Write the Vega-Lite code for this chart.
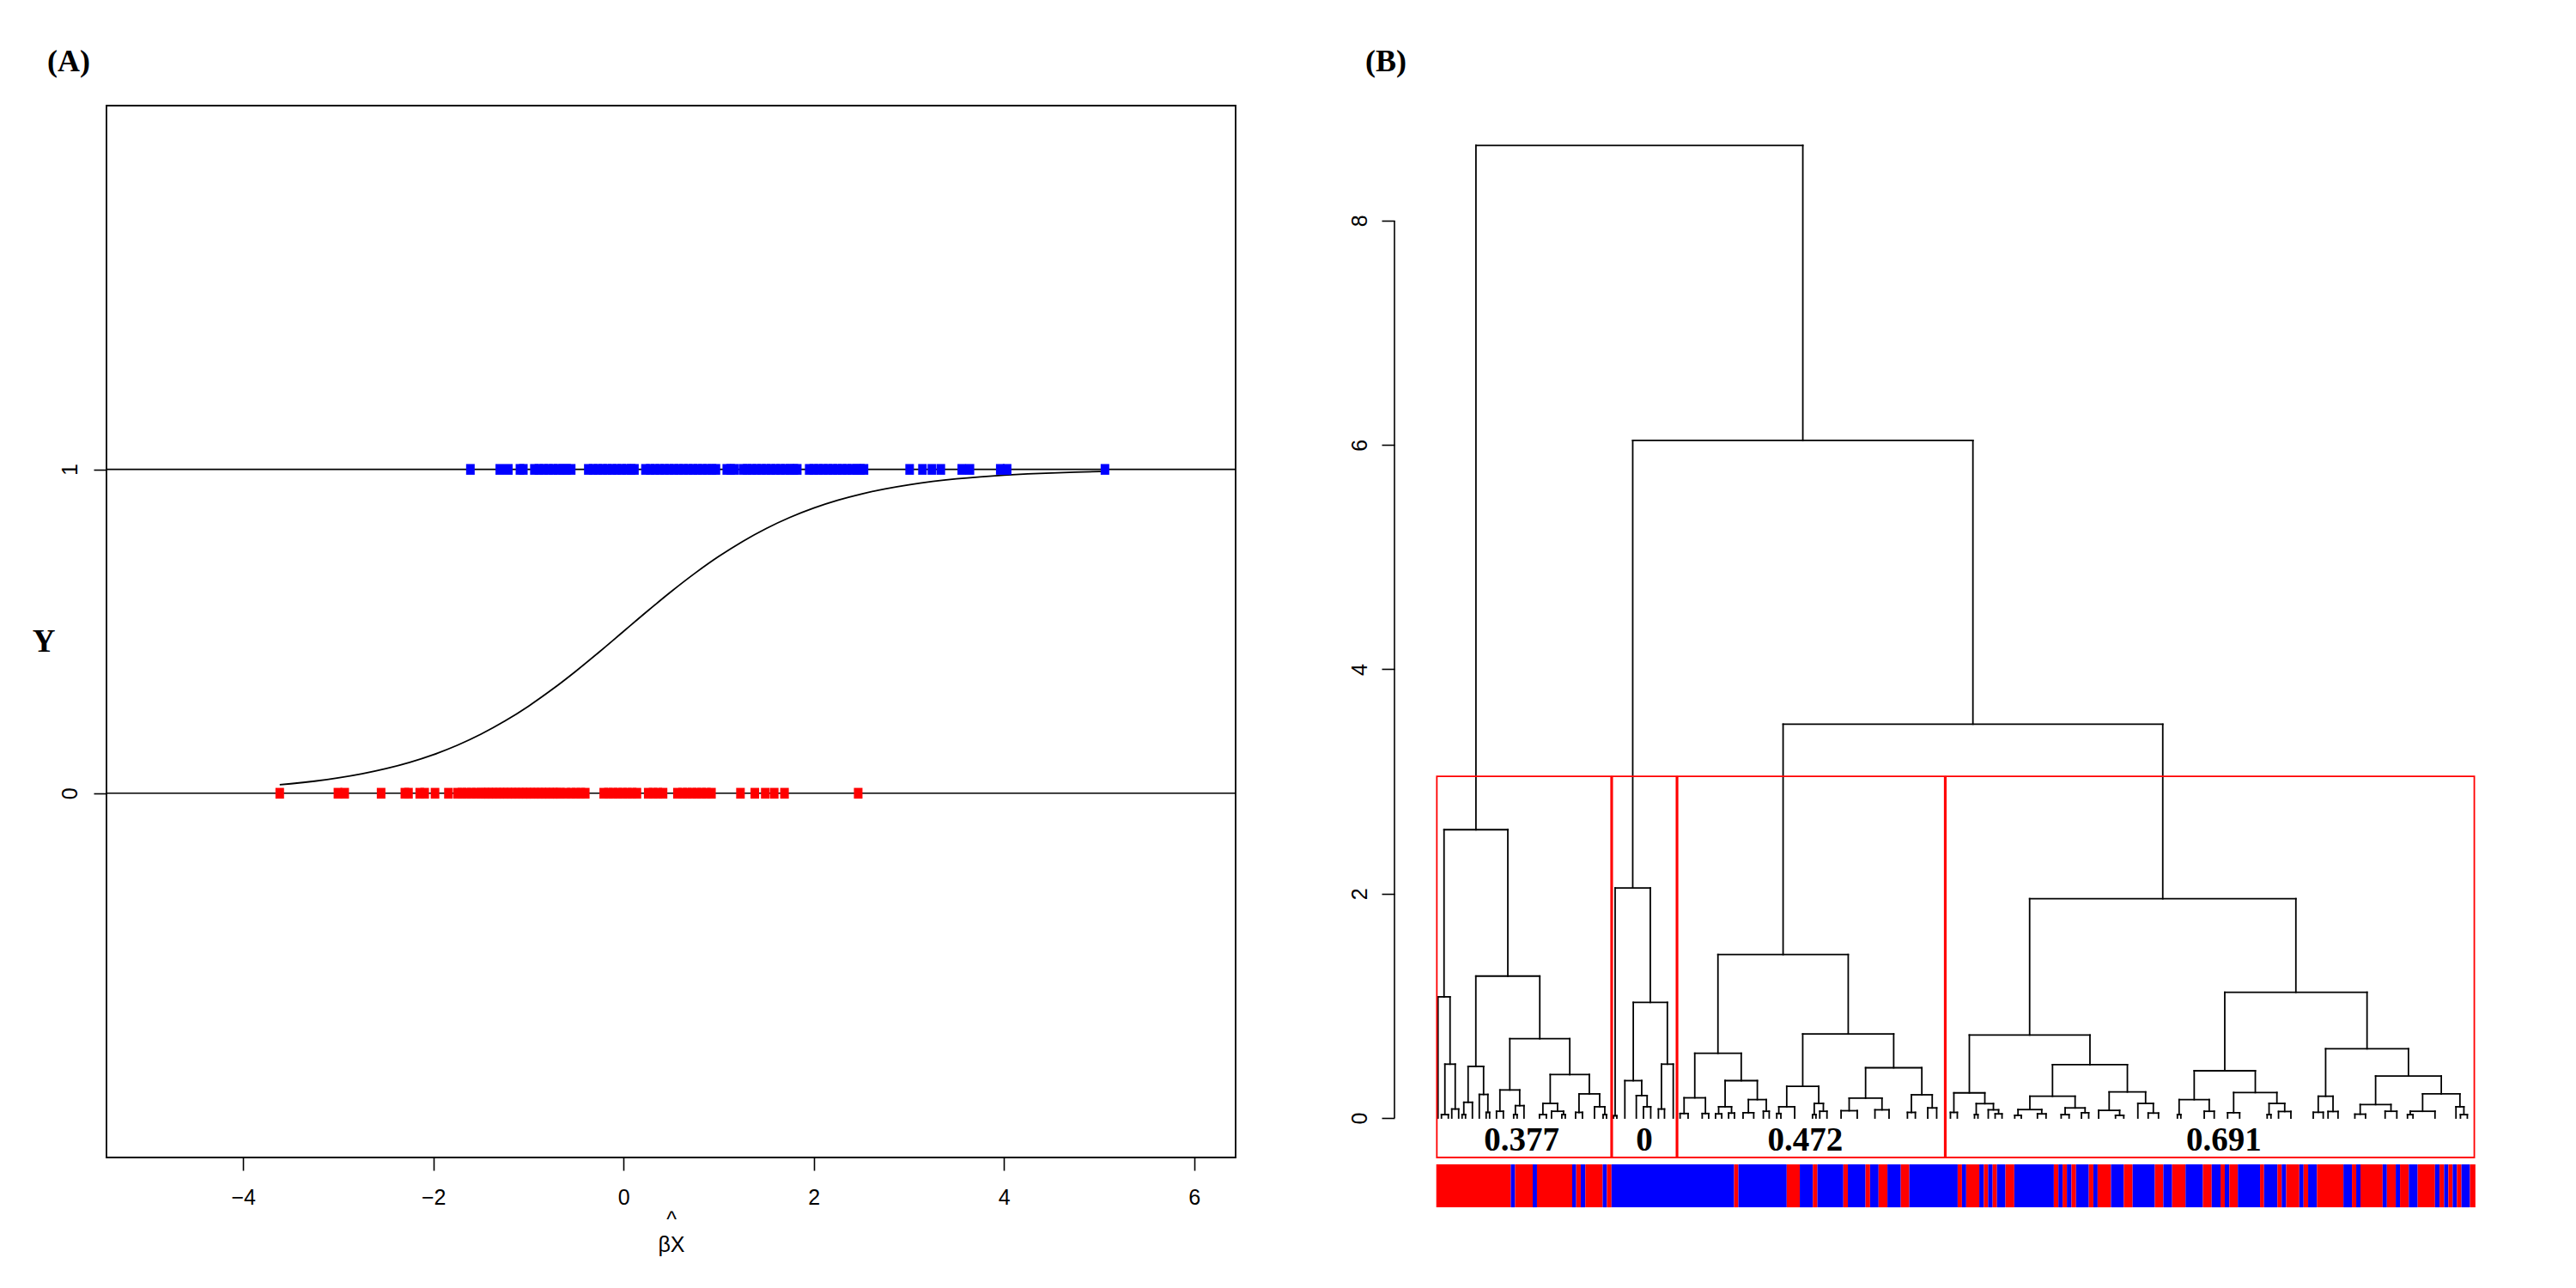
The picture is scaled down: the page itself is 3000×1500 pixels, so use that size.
{
  "$schema": "https://vega.github.io/schema/vega-lite/v6.json",
  "background": "white",
  "padding": {"left": 36, "top": 53, "right": 20, "bottom": 20},
  "bounds": "flush",
  "spacing": 185,
  "config": {
    "view": {"stroke": null},
    "axis": {
      "grid": false,
      "labelFont": "Liberation Sans",
      "labelFontSize": 25,
      "labelColor": "black",
      "tickColor": "black",
      "tickSize": 15,
      "tickWidth": 1.6,
      "domain": false,
      "format": "d"
    },
    "title": {
      "font": "Liberation Serif",
      "fontSize": 36,
      "fontWeight": "bold",
      "color": "black",
      "anchor": "start",
      "frame": "group",
      "baseline": "alphabetic",
      "offset": 32
    }
  },
  "datasets": {
    "points": [
      {"bx": -3.616, "y": 0}, {"bx": -3.004, "y": 0}, {"bx": -2.933, "y": 0}, {"bx": -2.55, "y": 0},
      {"bx": -2.3, "y": 0}, {"bx": -2.262, "y": 0}, {"bx": -2.144, "y": 0}, {"bx": -2.092, "y": 0},
      {"bx": -1.983, "y": 0}, {"bx": -1.842, "y": 0}, {"bx": -1.746, "y": 0}, {"bx": -1.7, "y": 0},
      {"bx": -1.65, "y": 0}, {"bx": -1.6, "y": 0}, {"bx": -1.55, "y": 0}, {"bx": -1.5, "y": 0},
      {"bx": -1.46, "y": 0}, {"bx": -1.42, "y": 0}, {"bx": -1.38, "y": 0}, {"bx": -1.34, "y": 0},
      {"bx": -1.3, "y": 0}, {"bx": -1.26, "y": 0}, {"bx": -1.22, "y": 0}, {"bx": -1.18, "y": 0},
      {"bx": -1.14, "y": 0}, {"bx": -1.1, "y": 0}, {"bx": -1.06, "y": 0}, {"bx": -1.02, "y": 0},
      {"bx": -0.98, "y": 0}, {"bx": -0.94, "y": 0}, {"bx": -0.9, "y": 0}, {"bx": -0.86, "y": 0},
      {"bx": -0.82, "y": 0}, {"bx": -0.78, "y": 0}, {"bx": -0.74, "y": 0}, {"bx": -0.7, "y": 0},
      {"bx": -0.665, "y": 0}, {"bx": -0.605, "y": 0}, {"bx": -0.55, "y": 0}, {"bx": -0.5, "y": 0},
      {"bx": -0.45, "y": 0}, {"bx": -0.403, "y": 0}, {"bx": -0.209, "y": 0}, {"bx": -0.16, "y": 0},
      {"bx": -0.11, "y": 0}, {"bx": -0.06, "y": 0}, {"bx": -0.01, "y": 0}, {"bx": 0.04, "y": 0},
      {"bx": 0.09, "y": 0}, {"bx": 0.14, "y": 0}, {"bx": 0.259, "y": 0}, {"bx": 0.31, "y": 0},
      {"bx": 0.36, "y": 0}, {"bx": 0.415, "y": 0}, {"bx": 0.566, "y": 0}, {"bx": 0.62, "y": 0},
      {"bx": 0.67, "y": 0}, {"bx": 0.72, "y": 0}, {"bx": 0.77, "y": 0}, {"bx": 0.82, "y": 0},
      {"bx": 0.87, "y": 0}, {"bx": 0.924, "y": 0}, {"bx": 1.229, "y": 0}, {"bx": 1.38, "y": 0},
      {"bx": 1.49, "y": 0}, {"bx": 1.584, "y": 0}, {"bx": 1.692, "y": 0}, {"bx": 2.467, "y": 0},
      {"bx": -1.611, "y": 1}, {"bx": -1.302, "y": 1}, {"bx": -1.212, "y": 1}, {"bx": -1.09, "y": 1},
      {"bx": -1.054, "y": 1}, {"bx": -0.938, "y": 1}, {"bx": -0.89, "y": 1}, {"bx": -0.84, "y": 1},
      {"bx": -0.79, "y": 1}, {"bx": -0.74, "y": 1}, {"bx": -0.69, "y": 1}, {"bx": -0.64, "y": 1},
      {"bx": -0.6, "y": 1}, {"bx": -0.551, "y": 1}, {"bx": -0.371, "y": 1}, {"bx": -0.32, "y": 1},
      {"bx": -0.27, "y": 1}, {"bx": -0.22, "y": 1}, {"bx": -0.17, "y": 1}, {"bx": -0.12, "y": 1},
      {"bx": -0.07, "y": 1}, {"bx": -0.02, "y": 1}, {"bx": 0.03, "y": 1}, {"bx": 0.08, "y": 1},
      {"bx": 0.114, "y": 1}, {"bx": 0.23, "y": 1}, {"bx": 0.28, "y": 1}, {"bx": 0.33, "y": 1},
      {"bx": 0.38, "y": 1}, {"bx": 0.43, "y": 1}, {"bx": 0.48, "y": 1}, {"bx": 0.53, "y": 1},
      {"bx": 0.58, "y": 1}, {"bx": 0.63, "y": 1}, {"bx": 0.68, "y": 1}, {"bx": 0.73, "y": 1},
      {"bx": 0.78, "y": 1}, {"bx": 0.83, "y": 1}, {"bx": 0.88, "y": 1}, {"bx": 0.93, "y": 1},
      {"bx": 0.971, "y": 1}, {"bx": 1.085, "y": 1}, {"bx": 1.125, "y": 1}, {"bx": 1.165, "y": 1},
      {"bx": 1.256, "y": 1}, {"bx": 1.3, "y": 1}, {"bx": 1.35, "y": 1}, {"bx": 1.4, "y": 1},
      {"bx": 1.45, "y": 1}, {"bx": 1.5, "y": 1}, {"bx": 1.55, "y": 1}, {"bx": 1.6, "y": 1},
      {"bx": 1.65, "y": 1}, {"bx": 1.7, "y": 1}, {"bx": 1.75, "y": 1}, {"bx": 1.79, "y": 1},
      {"bx": 1.826, "y": 1}, {"bx": 1.952, "y": 1}, {"bx": 2.0, "y": 1}, {"bx": 2.05, "y": 1},
      {"bx": 2.1, "y": 1}, {"bx": 2.15, "y": 1}, {"bx": 2.2, "y": 1}, {"bx": 2.25, "y": 1},
      {"bx": 2.3, "y": 1}, {"bx": 2.35, "y": 1}, {"bx": 2.4, "y": 1}, {"bx": 2.45, "y": 1},
      {"bx": 2.49, "y": 1}, {"bx": 2.528, "y": 1}, {"bx": 3.008, "y": 1}, {"bx": 3.143, "y": 1},
      {"bx": 3.242, "y": 1}, {"bx": 3.336, "y": 1}, {"bx": 3.556, "y": 1}, {"bx": 3.642, "y": 1},
      {"bx": 3.961, "y": 1}, {"bx": 4.033, "y": 1}, {"bx": 5.062, "y": 1}
    ],
    "fit": [
      {"bx": -3.616, "p": 0.0262}, {"bx": -3.5, "p": 0.0293}, {"bx": -3.25, "p": 0.0373},
      {"bx": -3.0, "p": 0.0474}, {"bx": -2.75, "p": 0.0601}, {"bx": -2.5, "p": 0.0759},
      {"bx": -2.25, "p": 0.0953}, {"bx": -2.0, "p": 0.1192}, {"bx": -1.75, "p": 0.148},
      {"bx": -1.5, "p": 0.1824}, {"bx": -1.25, "p": 0.2227}, {"bx": -1.0, "p": 0.2689},
      {"bx": -0.75, "p": 0.3208}, {"bx": -0.5, "p": 0.3775}, {"bx": -0.25, "p": 0.4378},
      {"bx": 0.0, "p": 0.5}, {"bx": 0.25, "p": 0.5622}, {"bx": 0.5, "p": 0.6225},
      {"bx": 0.75, "p": 0.6792}, {"bx": 1.0, "p": 0.7311}, {"bx": 1.25, "p": 0.7773},
      {"bx": 1.5, "p": 0.8176}, {"bx": 1.75, "p": 0.852}, {"bx": 2.0, "p": 0.8808},
      {"bx": 2.25, "p": 0.9047}, {"bx": 2.5, "p": 0.9241}, {"bx": 2.75, "p": 0.9399},
      {"bx": 3.0, "p": 0.9526}, {"bx": 3.25, "p": 0.9627}, {"bx": 3.5, "p": 0.9707},
      {"bx": 3.75, "p": 0.977}, {"bx": 4.0, "p": 0.982}, {"bx": 4.25, "p": 0.9859},
      {"bx": 4.5, "p": 0.989}, {"bx": 4.75, "p": 0.9914}, {"bx": 5.0, "p": 0.9933},
      {"bx": 5.062, "p": 0.9937}
    ],
    "merges": [
      {"l": 2, "r": 4, "h": 0.03, "hl": 0, "hr": 0},
      {"l": 5, "r": 7, "h": 0.08, "hl": 0, "hr": 0},
      {"l": 3, "r": 6, "h": 0.48, "hl": 0.03, "hr": 0.08},
      {"l": 1, "r": 4.5, "h": 1.08, "hl": 0, "hr": 0.48},
      {"l": 8, "r": 9, "h": 0.03, "hl": 0, "hr": 0},
      {"l": 8.5, "r": 11, "h": 0.14, "hl": 0.03, "hr": 0},
      {"l": 15, "r": 16, "h": 0.05, "hl": 0, "hr": 0},
      {"l": 13, "r": 15.5, "h": 0.21, "hl": 0, "hr": 0.05},
      {"l": 9.75, "r": 14.25, "h": 0.46, "hl": 0.14, "hr": 0.21},
      {"l": 18, "r": 20, "h": 0.06, "hl": 0, "hr": 0},
      {"l": 23, "r": 24, "h": 0.03, "hl": 0, "hr": 0},
      {"l": 23.5, "r": 26, "h": 0.11, "hl": 0.03, "hr": 0},
      {"l": 19, "r": 24.75, "h": 0.25, "hl": 0.06, "hr": 0.11},
      {"l": 30.5, "r": 32.5, "h": 0.03, "hl": 0, "hr": 0},
      {"l": 37, "r": 38, "h": 0.03, "hl": 0, "hr": 0},
      {"l": 34, "r": 37.5, "h": 0.06, "hl": 0, "hr": 0.03},
      {"l": 31.5, "r": 35.75, "h": 0.13, "hl": 0.03, "hr": 0.06},
      {"l": 41, "r": 43, "h": 0.05, "hl": 0, "hr": 0},
      {"l": 49, "r": 50, "h": 0.03, "hl": 0, "hr": 0},
      {"l": 46.5, "r": 49.5, "h": 0.1, "hl": 0, "hr": 0.03},
      {"l": 42, "r": 48, "h": 0.215, "hl": 0.05, "hr": 0.1},
      {"l": 33.625, "r": 45, "h": 0.387, "hl": 0.13, "hr": 0.215},
      {"l": 21.875, "r": 39.31, "h": 0.707, "hl": 0.25, "hr": 0.387},
      {"l": 12, "r": 30.59, "h": 1.265, "hl": 0.46, "hr": 0.707},
      {"l": 2.75, "r": 21.3, "h": 2.57, "hl": 1.08, "hr": 1.265},
      {"l": 52, "r": 53, "h": 0.02, "hl": 0, "hr": 0},
      {"l": 60.74, "r": 62.85, "h": 0.1, "hl": 0, "hr": 0},
      {"l": 58.66, "r": 61.8, "h": 0.2, "hl": 0, "hr": 0.1},
      {"l": 55.33, "r": 60.23, "h": 0.333, "hl": 0, "hr": 0.2},
      {"l": 65.09, "r": 66.85, "h": 0.08, "hl": 0, "hr": 0},
      {"l": 65.97, "r": 69.4, "h": 0.48, "hl": 0.08, "hr": 0},
      {"l": 57.78, "r": 67.69, "h": 1.03, "hl": 0.333, "hr": 0.48},
      {"l": 52.5, "r": 62.73, "h": 2.05, "hl": 0.02, "hr": 1.03},
      {"l": 71.39, "r": 73.72, "h": 0.04, "hl": 0, "hr": 0},
      {"l": 77.82, "r": 79.7, "h": 0.04, "hl": 0, "hr": 0},
      {"l": 72.55, "r": 78.76, "h": 0.18, "hl": 0.04, "hr": 0.04},
      {"l": 81.7, "r": 83.5, "h": 0.037, "hl": 0, "hr": 0},
      {"l": 85.5, "r": 87.2, "h": 0.044, "hl": 0, "hr": 0},
      {"l": 82.6, "r": 86.35, "h": 0.1, "hl": 0.037, "hr": 0.044},
      {"l": 89.7, "r": 92.8, "h": 0.047, "hl": 0, "hr": 0},
      {"l": 95.6, "r": 97.3, "h": 0.06, "hl": 0, "hr": 0},
      {"l": 91.25, "r": 96.45, "h": 0.164, "hl": 0.047, "hr": 0.06},
      {"l": 84.48, "r": 93.85, "h": 0.333, "hl": 0.1, "hr": 0.164},
      {"l": 75.66, "r": 89.17, "h": 0.577, "hl": 0.18, "hr": 0.333},
      {"l": 99.5, "r": 100.7, "h": 0.04, "hl": 0, "hr": 0},
      {"l": 100.1, "r": 104.71, "h": 0.1, "hl": 0.04, "hr": 0},
      {"l": 109.9, "r": 110.9, "h": 0.03, "hl": 0, "hr": 0},
      {"l": 112.0, "r": 114.1, "h": 0.06, "hl": 0, "hr": 0},
      {"l": 110.4, "r": 113.05, "h": 0.13, "hl": 0.03, "hr": 0.06},
      {"l": 102.4, "r": 111.7, "h": 0.283, "hl": 0.1, "hr": 0.13},
      {"l": 118.2, "r": 122.9, "h": 0.065, "hl": 0, "hr": 0},
      {"l": 128.05, "r": 132.15, "h": 0.073, "hl": 0, "hr": 0},
      {"l": 120.55, "r": 130.1, "h": 0.177, "hl": 0.065, "hr": 0.073},
      {"l": 137.5, "r": 139.8, "h": 0.05, "hl": 0, "hr": 0},
      {"l": 143.4, "r": 146, "h": 0.09, "hl": 0, "hr": 0},
      {"l": 138.65, "r": 144.7, "h": 0.207, "hl": 0.05, "hr": 0.09},
      {"l": 125.33, "r": 141.68, "h": 0.448, "hl": 0.177, "hr": 0.207},
      {"l": 107.05, "r": 133.5, "h": 0.749, "hl": 0.283, "hr": 0.448},
      {"l": 82.4, "r": 120.28, "h": 1.457, "hl": 0.577, "hr": 0.749},
      {"l": 150, "r": 152, "h": 0.05, "hl": 0, "hr": 0},
      {"l": 157, "r": 158, "h": 0.03, "hl": 0, "hr": 0},
      {"l": 163, "r": 165, "h": 0.037, "hl": 0, "hr": 0},
      {"l": 161, "r": 164, "h": 0.073, "hl": 0, "hr": 0.037},
      {"l": 157.5, "r": 162.5, "h": 0.128, "hl": 0.03, "hr": 0.073},
      {"l": 151, "r": 160, "h": 0.224, "hl": 0.05, "hr": 0.128},
      {"l": 168.7, "r": 170.6, "h": 0.024, "hl": 0, "hr": 0},
      {"l": 175.3, "r": 177.8, "h": 0.037, "hl": 0, "hr": 0},
      {"l": 169.65, "r": 176.55, "h": 0.075, "hl": 0.024, "hr": 0.037},
      {"l": 182.2, "r": 184.5, "h": 0.03, "hl": 0, "hr": 0},
      {"l": 188.1, "r": 190.2, "h": 0.047, "hl": 0, "hr": 0},
      {"l": 183.35, "r": 189.15, "h": 0.09, "hl": 0.03, "hr": 0.047},
      {"l": 173.1, "r": 186.25, "h": 0.194, "hl": 0.075, "hr": 0.09},
      {"l": 198, "r": 200.4, "h": 0.024, "hl": 0, "hr": 0},
      {"l": 193.1, "r": 199.2, "h": 0.068, "hl": 0, "hr": 0.024},
      {"l": 207.5, "r": 210.5, "h": 0.044, "hl": 0, "hr": 0},
      {"l": 204.5, "r": 209.0, "h": 0.13, "hl": 0, "hr": 0.044},
      {"l": 196.15, "r": 206.75, "h": 0.232, "hl": 0.068, "hr": 0.13},
      {"l": 179.68, "r": 201.45, "h": 0.475, "hl": 0.194, "hr": 0.232},
      {"l": 155.5, "r": 190.57, "h": 0.74, "hl": 0.224, "hr": 0.475},
      {"l": 216, "r": 217, "h": 0.03, "hl": 0, "hr": 0},
      {"l": 223.8, "r": 226.7, "h": 0.06, "hl": 0, "hr": 0},
      {"l": 216.5, "r": 225.25, "h": 0.164, "hl": 0.03, "hr": 0.06},
      {"l": 230.6, "r": 234.1, "h": 0.047, "hl": 0, "hr": 0},
      {"l": 242.1, "r": 243.2, "h": 0.03, "hl": 0, "hr": 0},
      {"l": 245.4, "r": 249.0, "h": 0.058, "hl": 0, "hr": 0},
      {"l": 242.65, "r": 247.2, "h": 0.13, "hl": 0.03, "hr": 0.058},
      {"l": 232.35, "r": 244.93, "h": 0.227, "hl": 0.047, "hr": 0.13},
      {"l": 220.88, "r": 238.65, "h": 0.421, "hl": 0.164, "hr": 0.227},
      {"l": 255.5, "r": 258.4, "h": 0.051, "hl": 0, "hr": 0},
      {"l": 259.8, "r": 262.7, "h": 0.058, "hl": 0, "hr": 0},
      {"l": 256.95, "r": 261.25, "h": 0.194, "hl": 0.051, "hr": 0.058},
      {"l": 267.6, "r": 270.7, "h": 0.034, "hl": 0, "hr": 0},
      {"l": 276.4, "r": 279.8, "h": 0.06, "hl": 0, "hr": 0},
      {"l": 269.15, "r": 278.1, "h": 0.12, "hl": 0.034, "hr": 0.06},
      {"l": 282.9, "r": 284.5, "h": 0.03, "hl": 0, "hr": 0},
      {"l": 283.7, "r": 290.9, "h": 0.06, "hl": 0.03, "hr": 0},
      {"l": 298.3, "r": 300.3, "h": 0.03, "hl": 0, "hr": 0},
      {"l": 297, "r": 299.3, "h": 0.1, "hl": 0, "hr": 0.03},
      {"l": 287.3, "r": 298.15, "h": 0.215, "hl": 0.06, "hr": 0.1},
      {"l": 273.63, "r": 292.73, "h": 0.374, "hl": 0.12, "hr": 0.215},
      {"l": 259.1, "r": 283.18, "h": 0.617, "hl": 0.194, "hr": 0.374},
      {"l": 229.77, "r": 271.14, "h": 1.121, "hl": 0.421, "hr": 0.617},
      {"l": 173.03, "r": 250.45, "h": 1.955, "hl": 0.74, "hr": 1.121},
      {"l": 101.34, "r": 211.74, "h": 3.51, "hl": 1.457, "hr": 1.955},
      {"l": 57.62, "r": 156.54, "h": 6.04, "hl": 2.05, "hr": 3.51},
      {"l": 12.03, "r": 107.08, "h": 8.67, "hl": 2.57, "hr": 6.04}
    ],
    "clusters": [
      {"from": 0.66, "to": 51.33, "cut": 3.045, "mid": 25.3, "share": "0.377"},
      {"from": 51.66, "to": 70.33, "cut": 3.045, "mid": 61.0, "share": "0"},
      {"from": 70.66, "to": 148.33, "cut": 3.045, "mid": 107.8, "share": "0.472"},
      {"from": 148.66, "to": 302.33, "cut": 3.045, "mid": 229.5, "share": "0.691"}
    ],
    "leafbar": [
      {"s": 0.5, "e": 22.17, "y": 0}, {"s": 22.17, "e": 23.41, "y": 1}, {"s": 23.41, "e": 28.54, "y": 0},
      {"s": 28.54, "e": 29.78, "y": 1}, {"s": 29.78, "e": 40.03, "y": 0}, {"s": 40.03, "e": 41.19, "y": 1},
      {"s": 41.19, "e": 42.51, "y": 0}, {"s": 42.51, "e": 43.84, "y": 1}, {"s": 43.84, "e": 48.88, "y": 0},
      {"s": 48.88, "e": 50.12, "y": 1}, {"s": 50.12, "e": 51.45, "y": 0}, {"s": 51.45, "e": 87.1, "y": 1},
      {"s": 87.1, "e": 88.34, "y": 0}, {"s": 88.34, "e": 102.4, "y": 1}, {"s": 102.4, "e": 106.2, "y": 0},
      {"s": 106.2, "e": 110.0, "y": 1}, {"s": 110.0, "e": 111.33, "y": 0}, {"s": 111.33, "e": 118.86, "y": 1},
      {"s": 118.86, "e": 120.18, "y": 0}, {"s": 120.18, "e": 125.31, "y": 1}, {"s": 125.31, "e": 126.63, "y": 0},
      {"s": 126.63, "e": 129.11, "y": 1}, {"s": 129.11, "e": 131.68, "y": 0}, {"s": 131.68, "e": 135.57, "y": 1},
      {"s": 135.57, "e": 138.05, "y": 0}, {"s": 138.05, "e": 152.11, "y": 1}, {"s": 152.11, "e": 153.35, "y": 0},
      {"s": 153.35, "e": 154.59, "y": 1}, {"s": 154.59, "e": 158.39, "y": 0}, {"s": 158.39, "e": 159.72, "y": 1},
      {"s": 159.72, "e": 160.96, "y": 0}, {"s": 160.96, "e": 162.28, "y": 1}, {"s": 162.28, "e": 163.52, "y": 0},
      {"s": 163.52, "e": 166.0, "y": 1}, {"s": 166.0, "e": 168.57, "y": 0}, {"s": 168.57, "e": 180.07, "y": 1},
      {"s": 180.07, "e": 181.39, "y": 0}, {"s": 181.39, "e": 182.63, "y": 1}, {"s": 182.63, "e": 183.87, "y": 0},
      {"s": 183.87, "e": 185.2, "y": 1}, {"s": 185.2, "e": 186.52, "y": 0}, {"s": 186.52, "e": 190.24, "y": 1},
      {"s": 190.24, "e": 191.56, "y": 0}, {"s": 191.56, "e": 192.8, "y": 1}, {"s": 192.8, "e": 196.69, "y": 0},
      {"s": 196.69, "e": 200.41, "y": 1}, {"s": 200.41, "e": 202.98, "y": 0}, {"s": 202.98, "e": 209.43, "y": 1},
      {"s": 209.43, "e": 211.91, "y": 0}, {"s": 211.91, "e": 214.47, "y": 1}, {"s": 214.47, "e": 218.36, "y": 0},
      {"s": 218.36, "e": 223.41, "y": 1}, {"s": 223.41, "e": 225.97, "y": 0}, {"s": 225.97, "e": 228.54, "y": 1},
      {"s": 228.54, "e": 229.78, "y": 0}, {"s": 229.78, "e": 231.1, "y": 1}, {"s": 231.1, "e": 233.58, "y": 0},
      {"s": 233.58, "e": 240.03, "y": 1}, {"s": 240.03, "e": 241.19, "y": 0}, {"s": 241.19, "e": 245.08, "y": 1},
      {"s": 245.08, "e": 246.32, "y": 0}, {"s": 246.32, "e": 247.64, "y": 1}, {"s": 247.64, "e": 251.45, "y": 0},
      {"s": 251.45, "e": 252.69, "y": 1}, {"s": 252.69, "e": 254.01, "y": 0}, {"s": 254.01, "e": 256.58, "y": 1},
      {"s": 256.58, "e": 264.27, "y": 0}, {"s": 264.27, "e": 266.75, "y": 1}, {"s": 266.75, "e": 267.99, "y": 0},
      {"s": 267.99, "e": 269.23, "y": 1}, {"s": 269.23, "e": 275.68, "y": 0}, {"s": 275.68, "e": 276.92, "y": 1},
      {"s": 276.92, "e": 279.49, "y": 0}, {"s": 279.49, "e": 280.73, "y": 1}, {"s": 280.73, "e": 283.29, "y": 0},
      {"s": 283.29, "e": 285.86, "y": 1}, {"s": 285.86, "e": 290.9, "y": 0}, {"s": 290.9, "e": 292.23, "y": 1},
      {"s": 292.23, "e": 293.55, "y": 0}, {"s": 293.55, "e": 294.79, "y": 1}, {"s": 294.79, "e": 296.03, "y": 0},
      {"s": 296.03, "e": 297.27, "y": 1}, {"s": 297.27, "e": 298.59, "y": 0}, {"s": 298.59, "e": 301.07, "y": 1},
      {"s": 301.07, "e": 302.65, "y": 0}
    ]
  },
  "hconcat": [
    {
      "width": 1315,
      "height": 1225,
      "title": {"text": "(A)", "dx": -69},
      "view": {"stroke": "black", "strokeWidth": 1.8},
      "layer": [
        {
          "data": {"values": [{"level": 0}, {"level": 1}]},
          "mark": {"type": "rule", "color": "black", "strokeWidth": 1.6},
          "encoding": {
            "y": {
              "field": "level",
              "type": "quantitative",
              "scale": {"domain": [-1.1247, 2.1233], "nice": false, "zero": false},
              "axis": {
                "values": [0, 1],
                "labelAngle": -90,
                "labelAlign": "center",
                "labelBaseline": "middle",
                "labelPadding": 28,
                "title": "Y",
                "titleAngle": 0,
                "titleFont": "Liberation Serif",
                "titleFontSize": 37,
                "titleFontWeight": "bold",
                "titleColor": "black",
                "titleAlign": "center",
                "titleBaseline": "middle",
                "titleX": -73.5,
                "titleY": 624.5
              }
            }
          }
        },
        {
          "data": {"name": "fit"},
          "mark": {"type": "line", "color": "black", "strokeWidth": 1.8, "interpolate": "monotone"},
          "encoding": {
            "x": {"field": "bx", "type": "quantitative"},
            "y": {"field": "p", "type": "quantitative"}
          }
        },
        {
          "data": {"name": "points"},
          "mark": {
            "type": "point",
            "shape": "M-1,-1.25L1,-1.25L1,1.25L-1,1.25Z",
            "filled": true,
            "size": 100,
            "opacity": 1
          },
          "encoding": {
            "x": {
              "field": "bx",
              "type": "quantitative",
              "scale": {"domain": [-5.438, 6.436], "nice": false, "zero": false},
              "axis": {
                "values": [-4, -2, 0, 2, 4, 6],
                "labelBaseline": "middle",
                "labelPadding": 31,
                "labelFlush": false,
                "title": ["^\u00a0\u00a0", "βX"],
                "titleFont": "Liberation Sans",
                "titleFontSize": 25,
                "titleFontWeight": "normal",
                "titleColor": "black",
                "titleBaseline": "alphabetic",
                "titleLineHeight": 29,
                "titleY": 80
              }
            },
            "y": {"field": "y", "type": "quantitative"},
            "color": {
              "field": "y",
              "type": "nominal",
              "scale": {"domain": [0, 1], "range": ["#ff0000", "#0000ff"]},
              "legend": null
            }
          }
        }
      ]
    },
    {
      "width": 1315,
      "height": 1225,
      "title": {"text": "(B)", "dx": -34},
      "layer": [
        {
          "data": {"name": "merges"},
          "mark": {"type": "rule", "color": "black", "strokeWidth": 1.8, "strokeCap": "square"},
          "encoding": {
            "x": {
              "field": "l",
              "type": "quantitative",
              "scale": {"domain": [-11.66, 316.67], "nice": false, "zero": false},
              "axis": null
            },
            "x2": {"field": "r"},
            "y": {
              "field": "h",
              "type": "quantitative",
              "scale": {"domain": [-0.352, 9.025], "nice": false, "zero": false},
              "axis": {
                "values": [0, 2, 4, 6, 8],
                "labelAngle": -90,
                "labelAlign": "center",
                "labelBaseline": "middle",
                "labelPadding": 26,
                "title": null
              }
            }
          }
        },
        {
          "data": {"name": "merges"},
          "mark": {"type": "rule", "color": "black", "strokeWidth": 1.8, "strokeCap": "square"},
          "encoding": {
            "x": {"field": "l", "type": "quantitative"},
            "y": {"field": "hl", "type": "quantitative"},
            "y2": {"field": "h"}
          }
        },
        {
          "data": {"name": "merges"},
          "mark": {"type": "rule", "color": "black", "strokeWidth": 1.8, "strokeCap": "square"},
          "encoding": {
            "x": {"field": "r", "type": "quantitative"},
            "y": {"field": "hr", "type": "quantitative"},
            "y2": {"field": "h"}
          }
        },
        {
          "data": {"values": [{"tick": 0}, {"tick": 8}]},
          "mark": {"type": "rule", "color": "black", "strokeWidth": 1.6},
          "encoding": {
            "x": {"datum": -11.66, "type": "quantitative"},
            "y": {"aggregate": "min", "field": "tick", "type": "quantitative"},
            "y2": {"aggregate": "max", "field": "tick"}
          }
        },
        {
          "data": {"name": "clusters"},
          "mark": {"type": "rect", "filled": false, "stroke": "#ff0000", "strokeWidth": 1.8},
          "encoding": {
            "x": {"field": "from", "type": "quantitative"},
            "x2": {"field": "to"},
            "y": {"field": "cut", "type": "quantitative"},
            "y2": {"datum": -0.352}
          }
        },
        {
          "data": {"name": "clusters"},
          "mark": {
            "type": "text",
            "font": "Liberation Serif",
            "fontSize": 39,
            "fontWeight": "bold",
            "color": "black",
            "baseline": "alphabetic",
            "align": "center"
          },
          "encoding": {
            "x": {"field": "mid", "type": "quantitative"},
            "y": {"datum": -0.29, "type": "quantitative"},
            "text": {"field": "share"}
          }
        },
        {
          "data": {"name": "leafbar"},
          "mark": {"type": "rect", "stroke": null},
          "encoding": {
            "x": {"field": "s", "type": "quantitative"},
            "x2": {"field": "e"},
            "y": {"datum": -0.4135, "type": "quantitative"},
            "y2": {"datum": -0.7964},
            "color": {
              "field": "y",
              "type": "nominal",
              "scale": {"domain": [0, 1], "range": ["#ff0000", "#0000ff"]},
              "legend": null
            }
          }
        }
      ]
    }
  ]
}
